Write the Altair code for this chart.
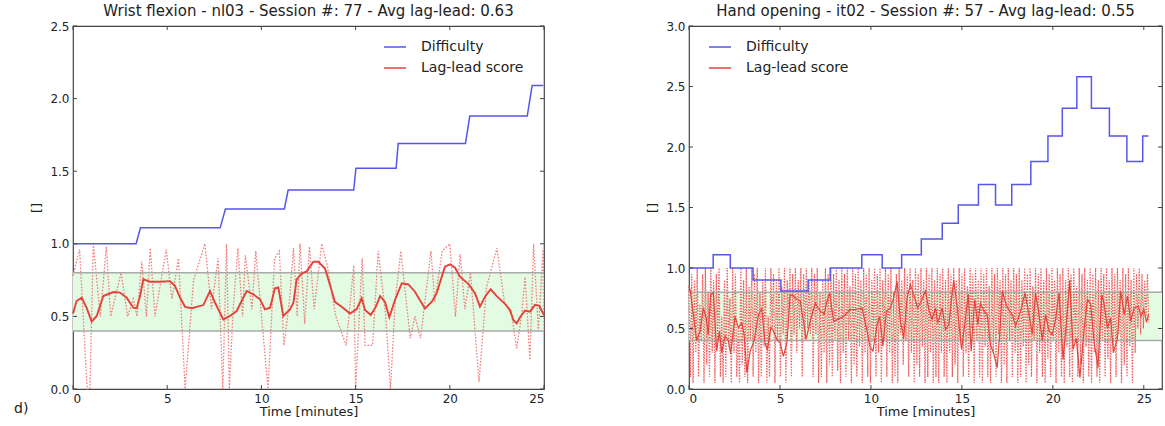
import altair as alt
import pandas as pd

FONT = "DejaVu Sans"

# ---------------- Left panel (Wrist flexion) ----------------
L_title = "Wrist flexion - nl03 - Session #: 77 - Avg lag-lead: 0.63"
L_diff_t = [0, 3.35, 3.58, 7.81, 8.09, 11.22, 11.42, 14.9, 15.02, 17.15, 17.26,
            20.83, 21.06, 24.11, 24.37, 24.96]
L_diff_v = [1.0, 1.0, 1.11, 1.11, 1.24, 1.24, 1.37, 1.37, 1.52, 1.52, 1.69,
            1.69, 1.88, 1.88, 2.09, 2.09]

L_smooth_t = [0.0, 0.19, 0.46, 0.72, 0.99, 1.26, 1.61, 2.14, 2.49, 2.85, 3.2, 3.38,
              3.56, 3.73, 4.09, 4.62, 5.15, 5.41, 5.68, 5.95, 6.3, 6.92, 7.27, 7.54,
              7.98, 8.33, 8.69, 8.95, 9.22, 9.57, 9.93, 10.19, 10.46, 10.72, 10.9,
              11.16, 11.52, 11.7, 11.87, 12.14, 12.4, 12.76, 13.02, 13.38, 13.64,
              13.9, 14.26, 14.7, 15.06, 15.32, 15.5, 15.8, 16.08, 16.3, 16.56, 16.79,
              17.09, 17.45, 17.8, 18.15, 18.68, 19.04, 19.3, 19.74, 20.01, 20.28,
              20.54, 20.98, 21.34, 21.6, 21.87, 22.17, 22.49, 22.93, 23.2, 23.37,
              23.55, 23.73, 23.99, 24.26, 24.52, 24.75, 25.0]
L_smooth_v = [0.52, 0.606, 0.629, 0.56, 0.464, 0.503, 0.64, 0.668, 0.664, 0.629, 0.56, 0.556,
              0.64, 0.755, 0.739, 0.739, 0.743, 0.71, 0.63, 0.566, 0.556, 0.578, 0.675, 0.594,
              0.479, 0.503, 0.537, 0.606, 0.675, 0.652, 0.617, 0.548, 0.56, 0.693, 0.70,
              0.503, 0.548, 0.594, 0.755, 0.795, 0.81, 0.876, 0.876, 0.83, 0.716,
              0.60, 0.567, 0.52, 0.55, 0.625, 0.544, 0.51, 0.567, 0.64, 0.60, 0.494,
              0.613, 0.728, 0.72, 0.67, 0.555, 0.60, 0.659, 0.843, 0.859, 0.835,
              0.774, 0.724, 0.659, 0.567, 0.636, 0.687, 0.64, 0.586, 0.544, 0.475,
              0.452, 0.494, 0.54, 0.533, 0.579, 0.572, 0.51]

L_raw_t = [0.0, 0.35, 0.75, 0.9, 1.08, 1.45, 1.77, 2.0, 2.55, 2.9, 3.2, 3.4, 3.65, 3.9,
           4.1, 4.35, 4.95, 5.25, 5.6, 5.95, 6.4, 7.0, 7.35, 7.7, 7.95, 8.15, 8.3, 8.5,
           8.75, 9.0, 9.15, 9.5, 9.7, 10.35, 10.7, 10.95, 11.2, 11.5, 11.7, 11.9, 12.05,
           12.3, 12.55, 12.8, 13.2, 13.5, 13.95, 14.5, 14.9, 15.0, 15.35, 15.5, 15.9,
           16.2, 16.6, 16.85, 17.1, 17.4, 17.9, 18.15, 18.45, 19.0, 19.2, 19.6, 20.0,
           20.3, 20.55, 20.8, 21.1, 21.55, 21.95, 22.5, 22.9, 23.3, 23.55, 23.8, 24.0,
           24.25, 24.45, 24.7, 24.95, 25.0]
L_raw_v = [0.78, 0.96, 0.0, 0.0, 1.0, 0.5, 0.98, 0.5, 0.8, 0.5, 0.62, 0.5, 0.88, 0.5,
           0.97, 0.5, 0.96, 0.62, 0.9, 0.0, 0.75, 1.0, 0.55, 0.9, 0.0, 1.0, 0.0, 0.55,
           0.97, 0.5, 0.92, 0.55, 0.95, 0.0, 0.9, 0.95, 0.3, 0.62, 0.97, 0.5, 1.0,
           0.45, 0.98, 0.55, 1.0, 0.85, 0.5, 0.3, 0.85, 0.0, 0.9, 0.3, 0.3,
           0.95, 0.5, 0.0, 0.6, 0.95, 0.35, 0.5, 0.35, 0.95, 0.6, 0.95, 1.0,
           0.5, 0.93, 0.55, 0.8, 0.05, 0.7, 0.97, 0.6, 0.5, 0.28, 0.5, 0.77,
           0.2, 1.0, 0.4, 0.96, 0.38]

# ---------------- Right panel (Hand opening) ----------------
R_title = "Hand opening - it02 - Session #: 57 - Avg lag-lead: 0.55"
R_diff_t = [0, 1.33, 2.27, 3.52, 5.05, 6.55, 7.76, 9.5, 10.62, 11.69, 12.77, 13.92,
            14.8, 15.91, 16.85, 17.74, 18.79, 19.73, 20.52, 21.32, 22.12, 23.11,
            24.07, 24.94, 25.26]
R_diff_v = [1.0, 1.11, 1.0, 0.9, 0.81, 0.9, 1.0, 1.11, 1.0, 1.11, 1.24, 1.37,
            1.52, 1.69, 1.52, 1.69, 1.88, 2.09, 2.32, 2.58, 2.32, 2.09,
            1.88, 2.09, 2.09]

R_smooth_t = [0.0, 0.06, 0.24, 0.42, 0.61, 0.79, 0.94, 1.06, 1.19, 1.34, 1.52, 1.67, 1.8,
              1.98, 2.17, 2.29, 2.53, 2.72, 2.9, 3.03, 3.18, 3.36, 3.58, 3.82, 4.0, 4.18,
              4.31, 4.5, 4.64, 4.83, 5.01, 5.19, 5.38, 5.56, 5.74, 5.93, 6.11, 6.29, 6.44,
              6.66, 6.94, 7.21, 7.43, 7.58, 7.73, 7.95, 8.5, 8.87, 9.14, 9.51, 9.79, 9.97,
              10.11, 10.34, 10.48, 10.66, 10.85, 11.07, 11.25, 11.44, 11.62, 11.8, 11.99,
              12.17, 12.35, 12.57, 12.81, 13.0, 13.18, 13.36, 13.55, 13.67, 13.92, 14.1,
              14.28, 14.55, 14.74, 14.98, 15.2, 15.35, 15.51, 15.7, 15.88, 16.02, 16.21,
              16.39, 16.57, 16.76, 16.94, 17.09, 17.22, 17.46, 17.77, 17.95, 18.23, 18.47,
              18.69, 18.87, 19.05, 19.24, 19.42, 19.6, 19.79, 19.97, 20.15, 20.34, 20.56,
              20.74, 20.93, 21.11, 21.29, 21.49, 21.71, 21.9, 22.08, 22.26, 22.48, 22.69,
              22.81, 23.0, 23.18, 23.33, 23.55, 23.73, 23.92, 24.1, 24.28, 24.47, 24.69,
              24.85, 25.0, 25.15, 25.26]
R_smooth_v = [0.85, 0.82, 0.615, 0.40, 0.48, 0.67, 0.593, 0.45, 0.78, 0.794, 0.313, 0.478, 0.30,
              0.437, 0.40, 0.29, 0.60, 0.505, 0.547, 0.45, 0.135, 0.313, 0.40, 0.615, 0.665, 0.38,
              0.327, 0.51, 0.48, 0.41, 0.38, 0.27, 0.38, 0.78, 0.77, 0.74, 0.73, 0.56, 0.41,
              0.56, 0.71, 0.643, 0.62, 0.725, 0.794, 0.56, 0.60, 0.657, 0.657, 0.67, 0.478, 0.34,
              0.313, 0.533, 0.60, 0.354, 0.643, 0.67, 0.753, 0.89, 0.56, 0.42, 0.753,
              0.863, 0.78, 0.67, 0.74, 0.81, 0.657, 0.574, 0.67, 0.547, 0.67, 0.49,
              0.53, 0.90, 0.684, 0.327, 0.587, 0.786, 0.313, 0.74, 0.533, 0.71, 0.643,
              0.615, 0.368, 0.286, 0.176, 0.478, 0.81, 0.684, 0.615, 0.52, 0.643, 0.794,
              0.615, 0.45, 0.794, 0.615, 0.40, 0.615, 0.478, 0.45, 0.574, 0.794, 0.245,
              0.533, 0.90, 0.327, 0.42, 0.093, 0.478, 0.74, 0.70, 0.40, 0.176, 0.78,
              0.71, 0.505, 0.587, 0.30, 0.42, 0.81, 0.615, 0.77, 0.56, 0.67, 0.684,
              0.60, 0.66, 0.55, 0.62]

R_raw_dt = 0.075
R_raw_v = [0.85, 0.1, 0.95, 0.05, 0.9, 0.3, 1.0, 0.1, 0.7, 0.4,
           0.95, 0.05, 1.0, 0.2, 0.8, 0.1, 1.0, 0.3, 0.9, 0.05,
           0.95, 0.4, 1.0, 0.1, 0.6, 0.05, 0.9, 0.1, 1.0, 0.35,
           0.75, 0.05, 1.0, 0.3, 0.95, 0.1, 0.5, 0.05, 1.0, 0.2,
           0.9, 0.1, 1.0, 0.05, 0.85, 0.4, 1.0, 0.1, 0.95, 0.3,
           1.0, 0.05, 0.8, 0.1, 0.9, 0.35, 1.0, 0.05, 0.6, 0.1,
           1.0, 0.5, 0.95, 0.05, 0.9, 0.4, 1.0, 0.1, 0.85, 0.45,
           1.0, 0.05, 0.9, 0.5, 1.0, 0.1, 0.95, 0.45, 1.0, 0.3,
           0.9, 0.5, 1.0, 0.1, 0.95, 0.4, 1.0, 0.5, 0.9, 0.45,
           1.0, 0.1, 0.95, 0.45, 1.0, 0.05, 0.8, 0.1, 0.9, 0.3,
           1.0, 0.05, 0.95, 0.2, 1.0, 0.1, 0.95, 0.4, 1.0, 0.15,
           0.9, 0.05, 1.0, 0.3, 0.95, 0.1, 1.0, 0.4, 0.85, 0.05,
           1.0, 0.2, 0.95, 0.1, 1.0, 0.35, 0.9, 0.05, 1.0, 0.3,
           0.95, 0.1, 1.0, 0.05, 0.9, 0.4, 1.0, 0.1, 0.95, 0.3,
           1.0, 0.05, 0.9, 0.4, 1.0, 0.1, 0.95, 0.3, 1.0, 0.05,
           0.8, 0.1, 0.95, 0.05, 1.0, 0.45, 0.9, 0.2, 1.0, 0.4,
           0.95, 0.1, 1.0, 0.3, 0.9, 0.05, 1.0, 0.2, 0.95, 0.1,
           1.0, 0.35, 0.9, 0.05, 1.0, 0.1, 0.95, 0.3, 1.0, 0.05,
           0.9, 0.1, 1.0, 0.05, 0.95, 0.3, 1.0, 0.1, 0.9, 0.05,
           1.0, 0.3, 0.95, 0.1, 1.0, 0.2, 0.9, 0.05, 1.0, 0.4,
           0.95, 0.1, 1.0, 0.3, 0.85, 0.1, 1.0, 0.5, 0.95, 0.05,
           1.0, 0.4, 0.9, 0.1, 1.0, 0.05, 0.95, 0.35, 1.0, 0.1,
           0.85, 0.05, 1.0, 0.3, 0.95, 0.1, 1.0, 0.45, 0.9, 0.05,
           1.0, 0.2, 0.95, 0.05, 1.0, 0.4, 0.9, 0.1, 1.0, 0.3,
           0.95, 0.05, 1.0, 0.1, 0.9, 0.35, 1.0, 0.05, 0.95, 0.2,
           1.0, 0.1, 0.85, 0.4, 1.0, 0.05, 0.95, 0.3, 1.0, 0.1,
           0.9, 0.05, 1.0, 0.25, 0.95, 0.1, 1.0, 0.4, 0.9, 0.05,
           1.0, 0.3, 0.95, 0.1, 1.0, 0.05, 0.9, 0.35, 1.0, 0.1,
           0.95, 0.05, 1.0, 0.4, 0.85, 0.1, 1.0, 0.2, 0.95, 0.05,
           1.0, 0.35, 0.9, 0.1, 1.0, 0.05, 0.95, 0.3, 1.0, 0.1,
           0.9, 0.05, 1.0, 0.4, 0.95, 0.1, 1.0, 0.25, 0.9, 0.05,
           1.0, 0.3, 0.95, 0.1, 1.0, 0.45, 0.9, 0.05, 1.0, 0.2,
           0.95, 0.1, 1.0, 0.35, 0.9, 0.05, 1.0, 0.3, 0.95, 0.5,
           1.0, 0.45, 0.95, 0.5, 0.9, 0.6, 0.95, 0.55]
R_raw_t = [round(i * R_raw_dt, 3) for i in range(len(R_raw_v))]

BAND = [0.4, 0.8]
SERIES = ["Difficulty", "Lag-lead score"]
COLORS = ["#5656ee", "#e5423a"]
X_TICKS = [0, 5, 10, 15, 20, 25]

W_L, W_R, H = 471, 473, 363


def panel(title, xdom, ydom, yticks, diff_t, diff_v, diff_interp, sm_t, sm_v,
          raw_t, raw_v, legend_x, W, raw_color, raw_opacity, raw_dash, raw_width,
          sm_width, add_d):
    xs = alt.Scale(domain=xdom, nice=False, zero=False)
    ys = alt.Scale(domain=ydom, nice=False)
    xaxis = alt.Axis(values=X_TICKS, format="d", title="Time [minutes]")
    yaxis = alt.Axis(values=yticks, format=".1f", title="[]")

    def X(f):
        return alt.X(f, type="quantitative", scale=xs, axis=xaxis)

    def Y(f):
        return alt.Y(f, type="quantitative", scale=ys, axis=yaxis)

    color = alt.Color(
        "series:N",
        scale=alt.Scale(domain=SERIES, range=COLORS),
        legend=alt.Legend(
            orient="none", legendX=legend_x, legendY=9, title=None,
            symbolType="stroke", symbolSize=484, symbolStrokeWidth=1.5,
            labelFontSize=14, labelFont=FONT, labelColor="#222",
            labelOffset=14, rowPadding=2, padding=0,
        ),
    )

    band_df = pd.DataFrame({"lo": [BAND[0]], "hi": [BAND[1]]})
    band = alt.Chart(band_df).mark_rect(color="#e3fae3").encode(
        x=alt.value(0), x2=alt.value(W), y=Y("lo"), y2="hi"
    )
    lines_df = pd.DataFrame({"v": BAND})
    blines = alt.Chart(lines_df).mark_rule(color="#a9a9a9", strokeWidth=1.5).encode(
        y=Y("v"), x=alt.value(0), x2=alt.value(W)
    )
    raw_df = pd.DataFrame({"t": raw_t, "v": raw_v})
    raw = alt.Chart(raw_df).mark_line(
        color=raw_color, strokeWidth=raw_width, strokeDash=raw_dash, opacity=raw_opacity
    ).encode(x=X("t"), y=Y("v"))

    diff_df = pd.DataFrame({"t": diff_t, "v": diff_v, "series": SERIES[0]})
    diff = alt.Chart(diff_df).mark_line(strokeWidth=1.5, interpolate=diff_interp).encode(
        x=X("t"), y=Y("v"), color=color
    )
    sm_df = pd.DataFrame({"t": sm_t, "v": sm_v, "series": SERIES[1]})
    sm = alt.Chart(sm_df).mark_line(strokeWidth=sm_width).encode(
        x=X("t"), y=Y("v"), color=color
    )

    xt_df = pd.DataFrame({"v": X_TICKS})
    yt_df = pd.DataFrame({"v": yticks})
    tick_col = "#444"
    xt_b = alt.Chart(xt_df).mark_rule(color=tick_col).encode(
        x=X("v"), y=alt.value(H), y2=alt.value(H - 4))
    xt_t = alt.Chart(xt_df).mark_rule(color=tick_col).encode(
        x=X("v"), y=alt.value(0), y2=alt.value(4))
    yt_l = alt.Chart(yt_df).mark_rule(color=tick_col).encode(
        y=Y("v"), x=alt.value(0), x2=alt.value(4))
    yt_r = alt.Chart(yt_df).mark_rule(color=tick_col).encode(
        y=Y("v"), x=alt.value(W - 4), x2=alt.value(W))

    layers = [band, raw, blines, diff, sm, xt_b, xt_t, yt_l, yt_r]
    if add_d:
        dtxt = alt.Chart(pd.DataFrame({"s": ["d)"]})).mark_text(
            align="left", baseline="middle", fontSize=14, font=FONT, color="#222"
        ).encode(text="s:N", x=alt.value(-59), y=alt.value(383))
        layers.append(dtxt)

    return alt.layer(*layers).properties(
        width=W, height=H,
        title=alt.TitleParams(title, fontSize=15, font=FONT, fontWeight="normal",
                              color="#222", offset=1, anchor="middle"),
    )


left = panel(L_title, [0, 25], [0, 2.5], [0, 0.5, 1.0, 1.5, 2.0, 2.5],
             L_diff_t, L_diff_v, "linear", L_smooth_t, L_smooth_v,
             L_raw_t, L_raw_v, 310, W_L, "#ee6a6a", 0.85, [1.6, 1.6], 1.3, 1.9, True)
right = panel(R_title, [0, 26], [0, 3.0], [0, 0.5, 1.0, 1.5, 2.0, 2.5, 3.0],
              R_diff_t, R_diff_v, "step-after", R_smooth_t, R_smooth_v,
              R_raw_t, R_raw_v, 19, W_R, "#f03c3c", 0.85, [1.4, 1.4], 1.2, 1.2, False)

chart = alt.hconcat(left, right, spacing=145, bounds="flush").resolve_scale(
    color="independent"
).properties(
    padding={"left": 13, "top": 3, "right": 0, "bottom": 2},
    background="white",
).configure_view(
    stroke="#444", strokeWidth=1.2
).configure_axis(
    domain=False, ticks=False, grid=False,
    labelFont=FONT, labelFontSize=12, labelColor="#222",
    titleFont=FONT, titleFontSize=13, titleFontWeight="normal", titleColor="#222",
).configure_axisX(
    labelPadding=4, titlePadding=1,
).configure_axisY(
    labelPadding=4, titlePadding=6,
)

chart.save("out.html", embed_options={"renderer": "svg", "actions": False})
